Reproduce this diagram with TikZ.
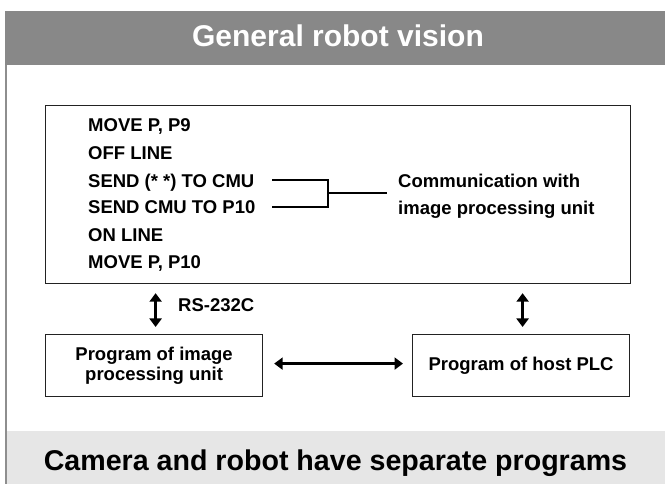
\documentclass[tikz,border=0pt]{standalone}
\usepackage{fontspec}
\setmainfont{Liberation Sans}
\usetikzlibrary{arrows.meta}

\definecolor{hdrgray}{HTML}{888888}
\definecolor{footgray}{HTML}{E6E6E6}
\definecolor{edgegray}{HTML}{8E8E8E}
\definecolor{boxline}{HTML}{222222}

\tikzset{
  txt/.style={inner sep=0pt, font=\bfseries\fontsize{18.5}{20}\selectfont,
              text height=13.2pt, text depth=0pt},
  codeline/.style={txt, anchor=west},
  framebox/.style={draw=boxline, line width=1.2pt, inner sep=0pt},
  progbox/.style={framebox, minimum width=217pt, minimum height=62pt, anchor=north west,
                  align=center, font=\bfseries\fontsize{18.5}{20}\selectfont},
  biarrow/.style={line width=2.6pt,
                  {Triangle[length=8.5pt,width=12pt]}-{Triangle[length=8.5pt,width=12pt]}},
  bracket/.style={line width=2pt}
}

\begin{document}
\begin{tikzpicture}[x=1pt, y=1pt]
\useasboundingbox (0,0) rectangle (665,-484);

% title band and footer band
\fill[hdrgray] (5,-11) rectangle (665,-65);
\node[inner sep=0pt, text=white, font=\bfseries\fontsize{30}{32}\selectfont,
      text height=21.5pt, text depth=0pt] (title) at (338,-36) {General robot vision};
\fill[edgegray] (5,-65) rectangle (7.3,-484);
\fill[footgray] (7.3,-431) rectangle (665,-484);
\node[inner sep=0pt, font=\bfseries\fontsize{28.6}{30}\selectfont,
      text height=20.5pt, text depth=0pt] (summary) at (335.5,-460.5)
      {Camera and robot have separate programs};

% robot program listing
\node[framebox, anchor=north west, minimum width=585pt, minimum height=178pt] (main) at (45,-105) {};
\node[codeline] (l1) at (88,-125)   {MOVE P, P9};
\node[codeline] (l2) at (88,-152.5) {OFF LINE};
\node[codeline] (l3) at (88,-180.5) {SEND (* *) TO CMU};
\node[codeline] (l4) at (88,-207)   {SEND CMU TO P10};
\node[codeline] (l5) at (88,-235)   {ON LINE};
\node[codeline] (l6) at (88,-262)   {MOVE P, P10};

% bracket joining the two communication lines
\node[txt, anchor=west, align=left, text height=13.2pt, text depth=0pt,
      font=\bfseries\fontsize{18.5}{26.5}\selectfont] (comm) at (398,-207.5)
      {Communication with\\image processing unit};
\coordinate (bl) at (272,0);
\coordinate (bj) at (327.5,-193.5);
\draw[bracket] (l3.east -| bl) -| (bj) |- (l4.east -| bl);
\draw[bracket, shorten >=11pt] (bj) -- (bj -| comm.west);

% program boxes
\node[progbox] (img) at (45,-334) {Program of image\\processing unit};
\node[progbox] (plc) at (412,-334) {Program of host PLC};

% links
\draw[biarrow, shorten <=9pt, shorten >=7pt] ([xshift=1.5pt]main.south -| img.north) -- ([xshift=1.5pt]img.north);
\node[txt, anchor=west] (rs) at (178,-305) {RS-232C};
\draw[biarrow, shorten <=9pt, shorten >=7pt] ([xshift=1.5pt]main.south -| plc.north) -- ([xshift=1.5pt]plc.north);
\draw[biarrow, shorten <=11pt, shorten >=9pt] ([yshift=2pt]img.east) -- ([yshift=2pt]plc.west);
\end{tikzpicture}
\end{document}
